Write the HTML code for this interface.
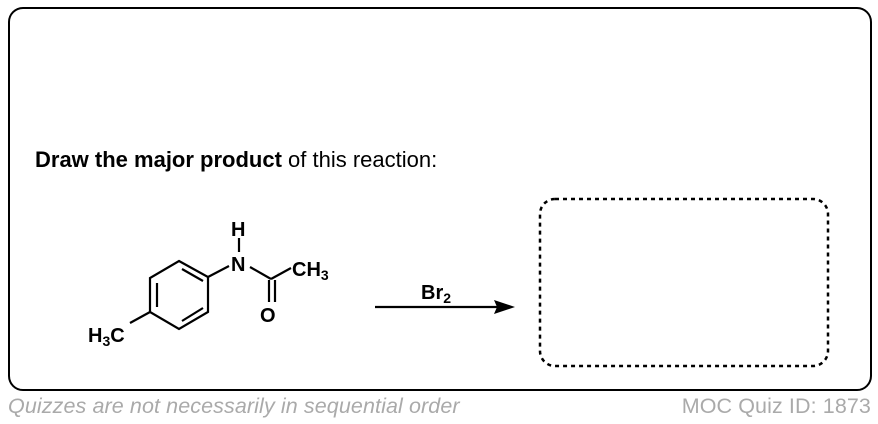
<!DOCTYPE html>
<html><head><style>
body{margin:0;width:878px;height:424px;background:#fff;position:relative;font-family:"Liberation Sans",Arial,sans-serif;overflow:hidden}
.box{position:absolute;left:8px;top:7px;width:860px;height:380px;border:2px solid #000;border-radius:15px}
.q{position:absolute;left:35px;top:147px;font-size:22px;color:#000;letter-spacing:0px}
.f1{position:absolute;left:8px;top:394px;font-size:21.5px;font-style:italic;color:#aaa;letter-spacing:0.1px}
.f2{position:absolute;right:7px;top:394px;font-size:21.5px;color:#aaa;letter-spacing:0.1px}
svg{position:absolute;left:0;top:0}
</style></head><body>
<div class="box"></div>
<div class="q"><b>Draw the major product</b> of this reaction:</div>
<div class="f1">Quizzes are not necessarily in sequential order</div>
<div class="f2">MOC Quiz ID: 1873</div>
<svg width="878" height="424" font-family="Liberation Sans, Arial, sans-serif" font-weight="bold" font-size="20">
<g stroke="#000" stroke-width="2.2" fill="none">
<polygon points="179,261 208,277 208,312 179,329 150,312 150,278"/>
<line x1="157" y1="283" x2="157" y2="307"/>
<line x1="182" y1="269" x2="203" y2="281"/>
<line x1="182" y1="321" x2="203" y2="308"/>
<line x1="150" y1="312" x2="130" y2="323"/>
<line x1="208" y1="277" x2="229" y2="266"/>
<line x1="239" y1="238" x2="239" y2="252"/>
<line x1="250" y1="267" x2="271" y2="279"/>
<line x1="271" y1="279" x2="291" y2="268"/>
<line x1="269" y1="280" x2="269" y2="302"/>
<line x1="275" y1="280" x2="275" y2="302"/>
<line x1="375" y1="307" x2="500" y2="307"/>
<rect x="540" y="199" width="288" height="167" rx="15" stroke-width="2.5" stroke-dasharray="4,4"/>
</g>
<polygon points="515,307 494,300 497,307 494,314" fill="#000"/>
<text x="231" y="236">H</text>
<text x="231" y="271">N</text>
<text x="292" y="276">CH<tspan font-size="14" dy="4">3</tspan></text>
<text x="260" y="322">O</text>
<text x="88" y="342">H<tspan font-size="14" dy="4">3</tspan><tspan dy="-4">C</tspan></text>
<text x="421" y="299">Br<tspan font-size="14" dy="4">2</tspan></text>
</svg>
</body></html>
